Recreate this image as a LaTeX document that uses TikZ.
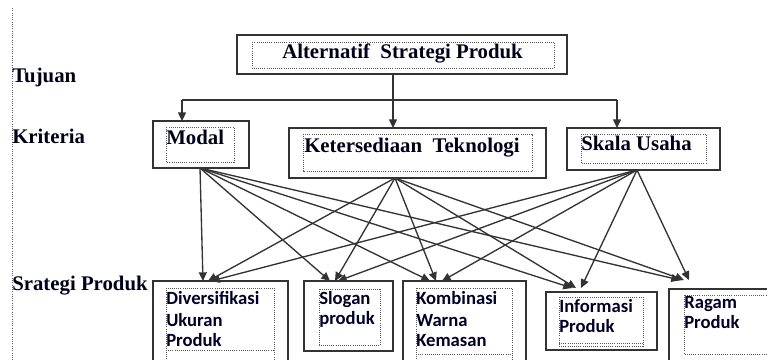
\documentclass[tikz,border=0pt]{standalone}
\usepackage{fontspec}
\setmainfont{Liberation Serif}
\newfontfamily\stratfont{Carlito}
\usetikzlibrary{arrows.meta}
\begin{document}
\begin{tikzpicture}[x=0.75pt,y=-0.75pt,
  outer/.style={draw=black!80, line width=1.1pt},
  inner/.style={draw=black!65, densely dotted, line width=0.6pt},
  lab/.style={font=\fontsize{15.6}{18}\selectfont\bfseries, anchor=base west, inner sep=0, text=black!90!blue},
  strat/.style={font=\stratfont\fontsize{14}{16}\selectfont\bfseries, anchor=base west, inner sep=0, text=black!85!blue},
  arr/.style={draw=black!80, line width=1pt, -{Triangle[length=6.5pt,width=6pt]}},
  link/.style={draw=black!80, line width=1pt}]
\useasboundingbox (0,0) rectangle (767,360);
\clip (0,0) rectangle (767,360);
\fill[white] (0,0) rectangle (767,360);
% left dotted rule
\draw[densely dotted, black!60, line width=0.7pt] (12,8) -- (12,360);
% row labels
\node[lab] (lT) at (12,83) {Tujuan};
\node[lab] (lK) at (12,143) {Kriteria};
\node[lab] (lS) at (12,290) {Srategi Produk};
% top box
\draw[outer] (237,35) rectangle (567,74);
\draw[inner] (252,42) rectangle (554,68);
\node[lab] (ttl) at (282,59) {Alternatif\ \ Strategi Produk};
% criteria boxes
\draw[outer] (153,121) rectangle (249,168);
\draw[inner] (166,127) rectangle (234,162);
\node[lab] (tM) at (166,144) {Modal};
\draw[outer] (289,128) rectangle (546,178);
\draw[inner] (303,134) rectangle (532,171);
\node[lab] (tK) at (304,152) {Ketersediaan\ \ Teknologi};
\draw[outer] (567,128) rectangle (720,170);
\draw[inner] (581,134) rectangle (706,163);
\node[lab] (tS) at (581,150) {Skala Usaha};
% strategy boxes
\draw[outer] (153,281) rectangle (288,370);
\draw[inner] (166,288) rectangle (274,370);
\draw[inner] (166,350) -- (274,350);
\node[strat] (s1a) at (166,304) {Diversifikasi};
\node[strat] (s1b) at (166,326) {Ukuran};
\node[strat] (s1c) at (166,346) {Produk};
\draw[outer] (304,281) rectangle (393,351);
\draw[inner] (319,289) rectangle (380,345);
\node[strat] (s2a) at (319,304) {Slogan};
\node[strat] (s2b) at (319,324) {produk};
\draw[outer] (403,281) rectangle (526,370);
\draw[inner] (416,288) rectangle (512,370);
\draw[inner] (416,354) -- (512,354);
\node[strat] (s3a) at (416,304) {Kombinasi};
\node[strat] (s3b) at (416,326) {Warna};
\node[strat] (s3c) at (416,346) {Kemasan};
\draw[outer] (546,292) rectangle (657,350);
\draw[inner] (559,297) rectangle (643,346);
\draw[inner] (559,343) -- (643,343);
\node[strat] (s4a) at (559,312) {Informasi};
\node[strat] (s4b) at (559,332) {Produk};
\draw[outer] (669,289) rectangle (780,370);
\draw[inner] (684,295) rectangle (775,354);
\node[strat] (s5a) at (684,308) {Ragam};
\node[strat] (s5b) at (684,328) {Produk};
% coordinates
\coordinate (topS) at (393,74);
\coordinate (ketT) at (393,128);
\coordinate (hL) at (182,100);
\coordinate (hR) at (617,100);
\coordinate (modT) at (182,121);
\coordinate (skaT) at (617,128);
\coordinate (mB) at (200,168);
\coordinate (kB) at (395,178);
\coordinate (sB) at (637,170);
\coordinate (d1) at (203,281); \coordinate (d2) at (208,281); \coordinate (d3) at (211,281);
\coordinate (g1) at (330,281); \coordinate (g2) at (335,281); \coordinate (g3) at (338,281);
\coordinate (k1) at (430,281); \coordinate (k2) at (436,281); \coordinate (k3) at (442,281);
\coordinate (i1) at (572,288); \coordinate (i2) at (576,288); \coordinate (i3) at (581,288);
\coordinate (r1) at (680,280); \coordinate (r2) at (684,280); \coordinate (r3) at (689,280);
% top connectors
\draw[arr] (topS) -- (ketT);
\draw[link] (hL) -- (hR);
\draw[arr] (hL) -- (modT);
\draw[arr] (hR) -- (skaT);
% criteria to strategies
\foreach \t in {d1,g1,k1,i1,r1} \draw[arr] (mB) -- (\t);
\foreach \t in {d2,g2,k2,i2,r2} \draw[arr] (kB) -- (\t);
\foreach \t in {d3,g3,k3,i3,r3} \draw[arr] (sB) -- (\t);
\end{tikzpicture}
\end{document}
